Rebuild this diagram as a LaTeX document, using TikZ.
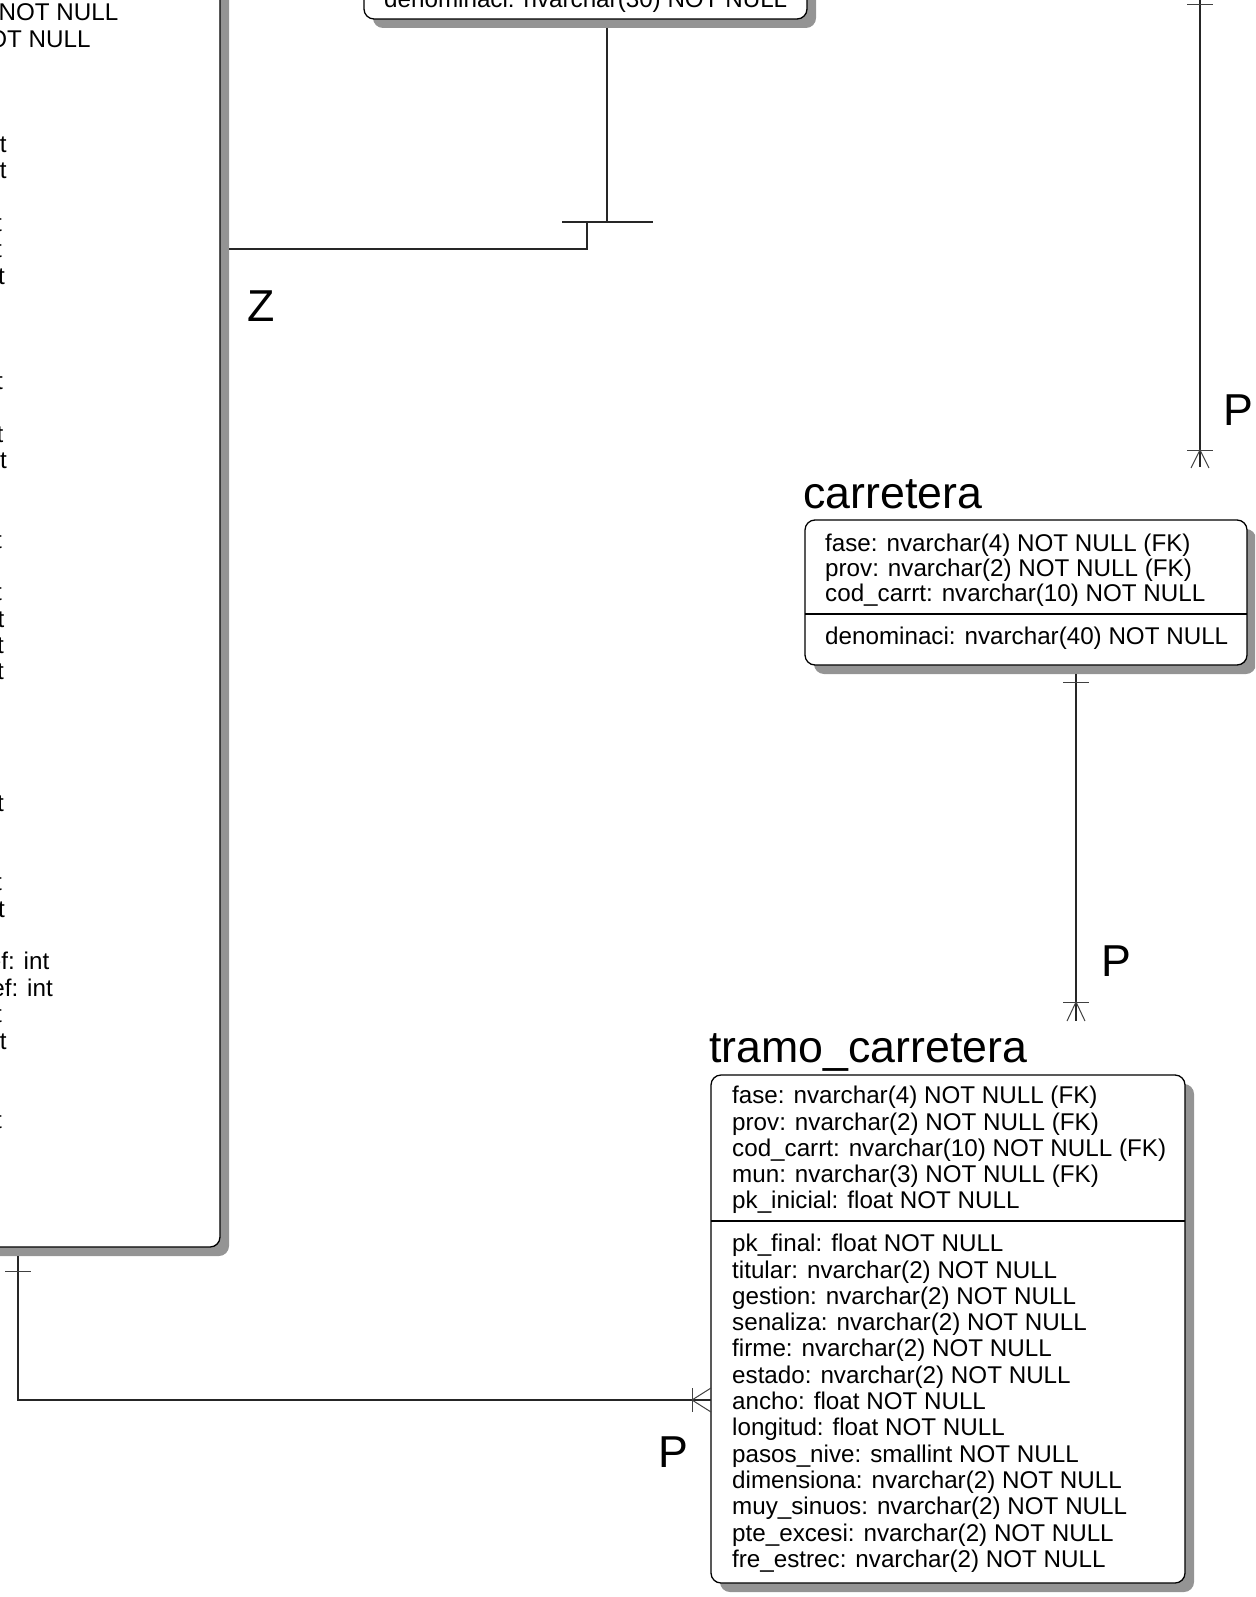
\documentclass[tikz,border=0pt]{standalone}
\usepackage{fontspec}
\setmainfont{Liberation Sans}
\usetikzlibrary{shadows}
\newcommand{\bodyfnt}{\fontsize{24.2}{26.3}\selectfont}
\newcommand{\headfnt}{\fontsize{44.7}{50}\selectfont}
\begin{document}
\begin{tikzpicture}[x=1pt,y=-1pt,
  entity/.style={draw=black, line width=1.3pt, fill=white, rounded corners=10pt, inner sep=0pt, outer sep=0pt,
     drop shadow={shadow xshift=9pt, shadow yshift=-9pt, fill=black!42, opacity=1}},
  divline/.style={draw=black, line width=1.2pt},
  attr/.style={anchor=base west, inner sep=0pt, font=\bodyfnt},
  frag/.style={anchor=base east, inner sep=0pt, font=\bodyfnt},
  head/.style={anchor=base west, inner sep=0pt, font=\headfnt},
  lbl/.style={anchor=base west, inner sep=0pt, font=\headfnt},
  conn/.style={draw=black!85, line width=1.2pt},
  tick/.style={draw=black!75, line width=1pt}]
\useasboundingbox (0,0) rectangle (1255,1597);
\clip (0,0) rectangle (1255,1597);

% ---------- entity boxes ----------
\node[entity, anchor=south east, minimum width=800pt, minimum height=1500pt] (leftbox) at (220,1247) {};
\node[entity, anchor=south west, minimum width=443pt, minimum height=200pt] (topbox) at (364,19) {};
\node[entity, anchor=north west, minimum width=442pt, minimum height=145pt] (carr) at (805,520) {};
\node[entity, anchor=north west, minimum width=474pt, minimum height=508pt] (tramo) at (711,1075) {};

% dividers
\draw[divline] (carr.west |- 0,614) -- (carr.east |- 0,614);
\draw[divline] (tramo.west |- 0,1221) -- (tramo.east |- 0,1221);

% ---------- headings ----------
\node[head] (carrhead) at (803,508) {carretera};
\node[head] (tramohead) at (709,1062) {tramo\_carretera};

% ---------- carretera attributes ----------
\node[attr] (c1) at (825,551) {fase: nvarchar(4) NOT NULL (FK)};
\node[attr] (c2) at (825,576) {prov: nvarchar(2) NOT NULL (FK)};
\node[attr] (c3) at (825,601) {cod\_carrt: nvarchar(10) NOT NULL};
\node[attr] (c4) at (825,644) {denominaci: nvarchar(40) NOT NULL};

% ---------- top box attribute (cut) ----------
\node[attr] (t1) at (384,7.5) {denominaci: nvarchar(30) NOT NULL};

% ---------- tramo attributes ----------
\foreach \t [count=\i from 0] in {fase: nvarchar(4) NOT NULL (FK), prov: nvarchar(2) NOT NULL (FK), cod\_carrt: nvarchar(10) NOT NULL (FK), mun: nvarchar(3) NOT NULL (FK), pk\_inicial: float NOT NULL}
  \node[attr] (tk\i) at (732,{1103.7+26.3*\i}) {\t};
\foreach \t [count=\i from 0] in {pk\_final: float NOT NULL, titular: nvarchar(2) NOT NULL, gestion: nvarchar(2) NOT NULL, senaliza: nvarchar(2) NOT NULL, firme: nvarchar(2) NOT NULL, estado: nvarchar(2) NOT NULL, ancho: float NOT NULL, longitud: float NOT NULL, pasos\_nive: smallint NOT NULL, dimensiona: nvarchar(2) NOT NULL, muy\_sinuos: nvarchar(2) NOT NULL, pte\_excesi: nvarchar(2) NOT NULL, fre\_estrec: nvarchar(2) NOT NULL}
  \node[attr] (tn\i) at (732,{1251.7+26.3*\i}) {\t};

% ---------- left box fragments (cut at the left edge) ----------
\foreach \k/\xe/\t [count=\n] in {-5/118.5/NOT NULL, -4/90.7/OT NULL, 0/6.7/t, 1/6.7/t, 3/2/t, 4/2/t, 5/5/t, 9/3/t, 11/3.5/t, 12/7/t, 15/2/t, 17/2/t, 18/4.5/t, 19/4/t, 20/4/t, 25/4/t, 28/2/t, 29/5/t, 31/49.5/ef: int, 32/53/ef: int, 33/2/t, 34/6.7/t, 37/2/t}
  \node[frag] (lf\n) at (\xe,{152.5+26.37*\k}) {\t};

% ---------- labels ----------
\node[lbl] (lz) at (247,321) {Z};
\node[lbl] (lp1) at (1223.5,425) {P};
\node[lbl] (lp2) at (1101.5,976) {P};
\node[lbl] (lp3) at (658.5,1467) {P};

% ---------- connector: top box -> left box ----------
\coordinate (zA) at (607,28);
\coordinate (zB) at (607,222);
\coordinate (zT1) at (562,222);
\coordinate (zT2) at (653,222);
\coordinate (zC) at (587,222);
\coordinate (zD) at (587,249);
\coordinate (zE) at (229,249);
\draw[conn] (zA) -- (zB);
\draw[conn] (zT1) -- (zT2);
\draw[conn] (zC) -- (zD) -- (zE);

% ---------- connector: (above) -> carretera ----------
\coordinate (rA) at (1200,-3);
\coordinate (rB) at (1200,467);
\coordinate (rT1) at (1187,5);
\coordinate (rT2) at (1213,5);
\coordinate (rC1) at (1187,450);
\coordinate (rC2) at (1213,450);
\coordinate (rK) at (1200,450);
\coordinate (rL) at (1191,468);
\coordinate (rR) at (1209,468);
\draw[conn] (rA) -- (rB);
\draw[tick] (rT1) -- (rT2);
\draw[tick] (rC1) -- (rC2);
\draw[tick] (rL) -- (rK) -- (rR);

% ---------- connector: carretera -> tramo_carretera ----------
\coordinate (cA) at (1076,674);
\coordinate (cB) at (1076,1021);
\coordinate (cT1) at (1063,682);
\coordinate (cT2) at (1089,682);
\coordinate (cC1) at (1063,1002);
\coordinate (cC2) at (1089,1002);
\coordinate (cK) at (1076,1002);
\coordinate (cL) at (1067,1021);
\coordinate (cR) at (1085,1021);
\draw[conn] (cA) -- (cB);
\draw[tick] (cT1) -- (cT2);
\draw[tick] (cC1) -- (cC2);
\draw[tick] (cL) -- (cK) -- (cR);

% ---------- connector: left box -> tramo_carretera ----------
\coordinate (bA) at (18,1256);
\coordinate (bB) at (18,1400);
\coordinate (bC) at (711,1400);
\coordinate (bT1) at (5,1271);
\coordinate (bT2) at (31,1271);
\coordinate (bC1) at (692,1388);
\coordinate (bC2) at (692,1412);
\coordinate (bK) at (692,1400);
\coordinate (bU) at (711,1388);
\coordinate (bD) at (711,1412);
\draw[conn] (bA) -- (bB) -- (bC);
\draw[tick] (bT1) -- (bT2);
\draw[tick] (bC1) -- (bC2);
\draw[tick] (bU) -- (bK) -- (bD);
\end{tikzpicture}
\end{document}
